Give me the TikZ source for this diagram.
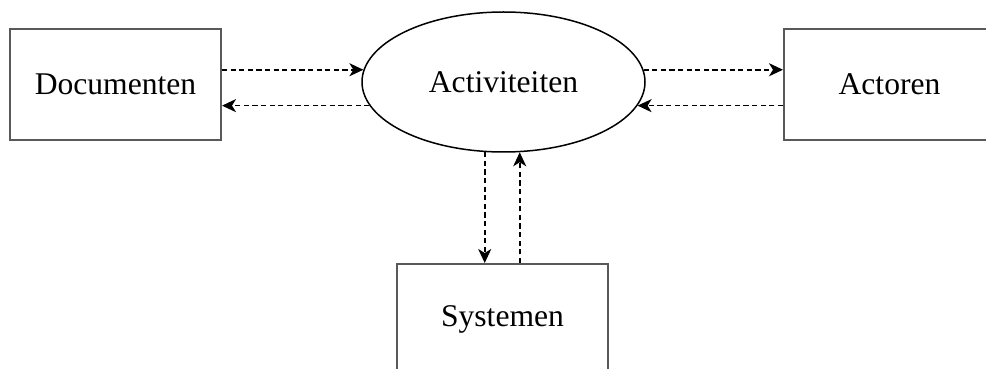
\documentclass[tikz,border=0pt]{standalone}
\usepackage{fontspec}
\setmainfont{Liberation Serif}
\usetikzlibrary{arrows.meta}
\usetikzlibrary{shapes.geometric}
\usetikzlibrary{positioning}

\begin{document}
\begin{tikzpicture}
				[x=0.5pt,y=-0.5pt,
				every node/.style={font=\fontsize{15.8}{19}\selectfont,inner sep=0pt},
				blok/.style={draw=black!65,line width=1pt,minimum width=105.5pt,minimum height=55.5pt},
				wolk/.style={ellipse,draw,line width=0.75pt,minimum width=141.5pt,minimum height=70pt},
				flow/.style={line width=0.85pt,dash pattern=on 2.6pt off 1.7pt,-{Stealth[length=7pt,width=6.5pt,inset=2pt]}}]
				\useasboundingbox (0,0) rectangle (986,369);
				\clip (0,0) rectangle (986,369);
				\node[blok] (doc) at (115.5,84.5) {Documenten};
				\node[wolk] (act) at (503.5,82) {Activiteiten};
				\node[blok] (actor) at (889.5,84.5) {Actoren};
				\node[blok] (sys) at (502.5,319.5) {Systemen};
				
				\draw[flow] (act.175 -| doc.east) -- (act.175);
				\draw[flow] (act.190) -- (act.190 -| doc.east);
				\draw[flow] (act.5) -- (act.5 -| actor.west);
				\draw[flow] (act.350 -| actor.west) -- (act.350);
				\draw[flow] (act.255) -- (act.255 |- sys.north);
				\draw[flow] (act.283 |- sys.north) -- (act.283);
			\end{tikzpicture}
\end{document}
